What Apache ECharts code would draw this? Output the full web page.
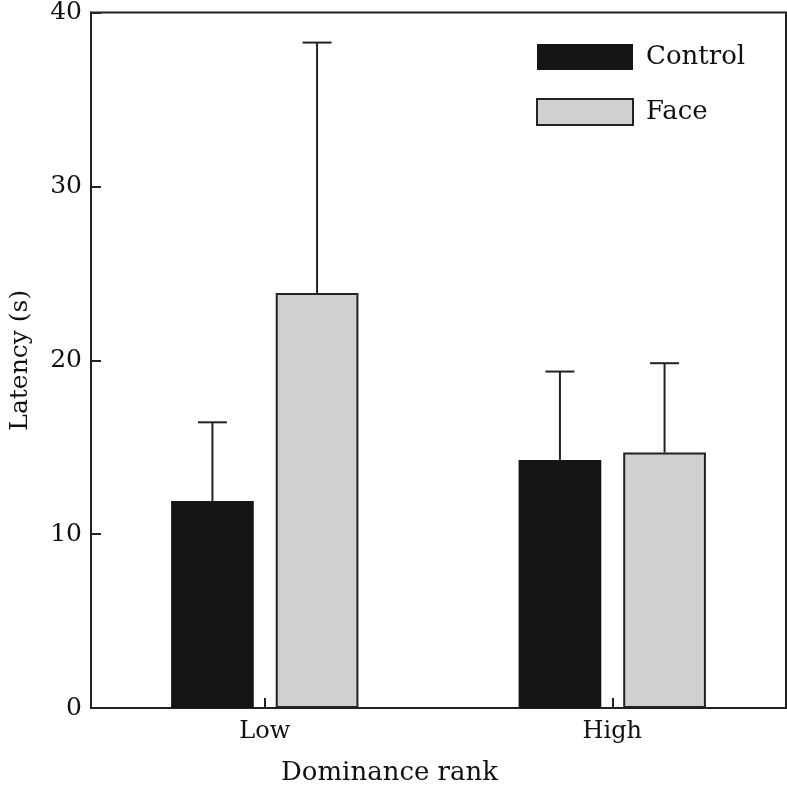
<!DOCTYPE html>
<html>
<head>
<meta charset="utf-8">
<script src="https://cdn.jsdelivr.net/npm/echarts@6/dist/echarts.min.js"></script>
<style>html,body{margin:0;padding:0;background:#fff;}#c{width:787px;height:791px;}</style>
</head>
<body>
<div id="c"></div>
<script>
var categories = ['Low', 'High'];
var seriesNames = ['Control', 'Face'];
var controlMean = [11.9, 14.27];
var controlErr = [4.53, 5.08];
var faceMean = [23.87, 14.69];
var faceErr = [14.4, 5.14];
var yTicks = [0, 10, 20, 30, 40];

var FONT = 'DejaVu Serif';
var BAR_W = 0.238, BAR_GAP = 0.265;

function errData(mean, err) {
  return mean.map(function (m, i) { return [i, m, err[i]]; });
}
function errSeries(name, mean, err, side) {
  return {
    type: 'custom',
    name: name + ' SE',
    data: errData(mean, err),
    z: 3,
    silent: true,
    encode: { x: 0, y: [1, 2] },
    renderItem: function (params, api) {
      var band = api.size([1, 0])[0];
      var w = band * BAR_W, g = w * BAR_GAP;
      var off = side * (w + g) / 2;
      var base = api.coord([api.value(0), api.value(1)]);
      var top = api.coord([api.value(0), api.value(1) + api.value(2)]);
      var x = base[0] + off;
      var cap = 14.5;
      var style = { stroke: '#222', lineWidth: 2 };
      return {
        type: 'group',
        children: [
          { type: 'line', shape: { x1: x, y1: base[1], x2: x, y2: top[1] }, style: style },
          { type: 'line', shape: { x1: x - cap, y1: top[1], x2: x + cap, y2: top[1] }, style: style }
        ]
      };
    }
  };
}

var chart = echarts.init(document.getElementById('c'), null, { renderer: 'canvas' });
chart.setOption({
  animation: false,
  backgroundColor: '#fff',
  textStyle: { fontFamily: FONT, color: '#111' },
  grid: { left: 88, right: 1, top: 12, bottom: 81, show: true, borderColor: '#222', borderWidth: 2, backgroundColor: 'transparent' },
  legend: {
    orient: 'vertical',
    left: 536, top: 44,
    padding: 0,
    itemWidth: 96, itemHeight: 26, itemGap: 28,
    icon: 'rect',
    data: seriesNames,
    textStyle: { fontFamily: FONT, fontSize: 26, color: '#111', padding: [0, 0, 0, 8] }
  },
  xAxis: {
    type: 'category',
    data: categories,
    name: 'Dominance rank',
    nameLocation: 'middle',
    nameGap: 52,
    nameTextStyle: { fontFamily: FONT, fontSize: 26, color: '#111', padding: [0, 98, 0, 0] },
    axisLine: { show: true, lineStyle: { color: '#222', width: 2 } },
    axisTick: { show: true, inside: true, length: 10, alignWithLabel: true, interval: 0, lineStyle: { color: '#222', width: 2 } },
    axisLabel: { fontFamily: FONT, fontSize: 24, color: '#111', margin: 12 },
    splitLine: { show: false }
  },
  yAxis: {
    type: 'value',
    min: yTicks[0], max: yTicks[yTicks.length - 1], interval: 10,
    name: 'Latency (s)',
    nameLocation: 'middle',
    nameGap: 58,
    nameTextStyle: { fontFamily: FONT, fontSize: 25, color: '#111' },
    axisLine: { show: true, lineStyle: { color: '#222', width: 2 } },
    axisTick: { show: true, inside: true, length: 10, lineStyle: { color: '#222', width: 2 } },
    axisLabel: { fontFamily: FONT, fontSize: 25, color: '#111', margin: 9, padding: [6, 0, 0, 0] },
    splitLine: { show: false }
  },
  series: [
    {
      type: 'bar', name: seriesNames[0], data: controlMean,
      barWidth: (BAR_W * 100) + '%', barGap: (BAR_GAP * 100) + '%',
      itemStyle: { color: '#151515', borderColor: '#151515', borderWidth: 0 },
      z: 2
    },
    {
      type: 'bar', name: seriesNames[1], data: faceMean,
      barWidth: (BAR_W * 100) + '%', barGap: (BAR_GAP * 100) + '%',
      itemStyle: { color: '#d0d0d0', borderColor: '#222', borderWidth: 2 },
      z: 2
    },
    errSeries(seriesNames[0], controlMean, controlErr, -1),
    errSeries(seriesNames[1], faceMean, faceErr, 1)
  ]
});
</script>
</body>
</html>
